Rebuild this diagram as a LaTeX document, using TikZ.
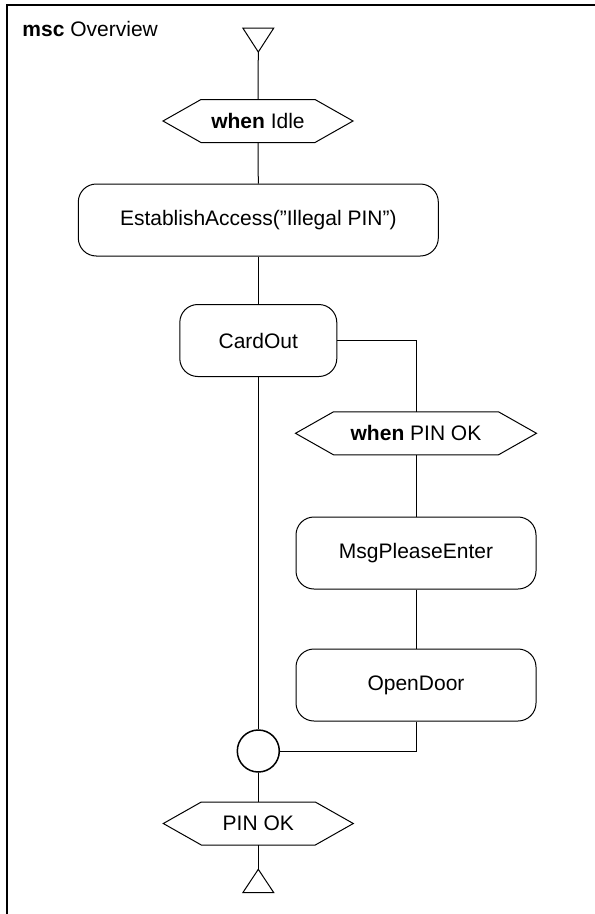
\documentclass[tikz,border=0pt]{standalone}
\usepackage{fontspec}
\setmainfont{Liberation Sans}
% hexagonal condition frame drawn around a (borderless) rectangular node
\newcommand\hexoutline[1]{%
  \draw ([xshift=38pt]#1.north west) -- ([xshift=-38pt]#1.north east) -- (#1.east)
     -- ([xshift=-38pt]#1.south east) -- ([xshift=38pt]#1.south west) -- (#1.west) -- cycle;}
\begin{document}
\begin{tikzpicture}[x=1pt,y=-1pt,
  font=\fontsize{21}{25}\selectfont,
  line width=1pt,
  refbox/.style={draw, rounded corners=18pt, inner sep=0pt, minimum height=72pt},
  hexnode/.style={inner sep=0pt, minimum height=42pt}]
\useasboundingbox (0,0) rectangle (595,914);

% diagram frame (open towards the right and bottom)
\draw[line width=1.5pt] (7,914) -- (7,5) -- (595,5);
\node[anchor=base west, inner sep=0pt] (title) at (22,36.5) {\textbf{msc} Overview};

% start and end symbols
\coordinate (start) at (258.3,52);
\coordinate (stop) at (258.3,869.3);
\draw (start) -- ++(-15.5,-24) -- ++(31,0) -- cycle;
\draw (stop) -- ++(-15.5,23.4) -- ++(31,0) -- cycle;

% main column
\node[hexnode, minimum width=189pt] (idle) at (258,121) {\textbf{when} Idle};
\hexoutline{idle}
\node[refbox, minimum width=360pt] (est) at (258.3,220) {EstablishAccess(”Illegal PIN”)};
\node[refbox, minimum width=157pt] (card) at (258.3,340.5) {CardOut};
\node[circle, draw, line width=1.5pt, minimum size=42pt, inner sep=0pt] (merge) at (258.3,751) {};
\node[hexnode, minimum width=189pt] (final) at (258.3,823.5) {PIN OK};
\hexoutline{final}

% side branch
\node[hexnode, minimum width=240pt] (pinok) at (416,433.3) {\textbf{when} PIN OK};
\hexoutline{pinok}
\node[refbox, minimum width=240pt] (msg) at (416,553) {MsgPleaseEnter};
\node[refbox, minimum width=240pt] (door) at (416,685) {OpenDoor};

% connectors
\draw (start) -- (idle.north);
\draw (idle.south) -- (est.north);
\draw (est.south) -- (card.north);
\draw (card.south) -- (merge.north);
\draw (merge.south) -- (final.north);
\draw (final.south) -- (stop);
\draw (card.east) -| (pinok.north);
\draw (pinok.south) -- (msg.north);
\draw (msg.south) -- (door.north);
\draw (door.south) |- (merge.east);
\end{tikzpicture}
\end{document}
